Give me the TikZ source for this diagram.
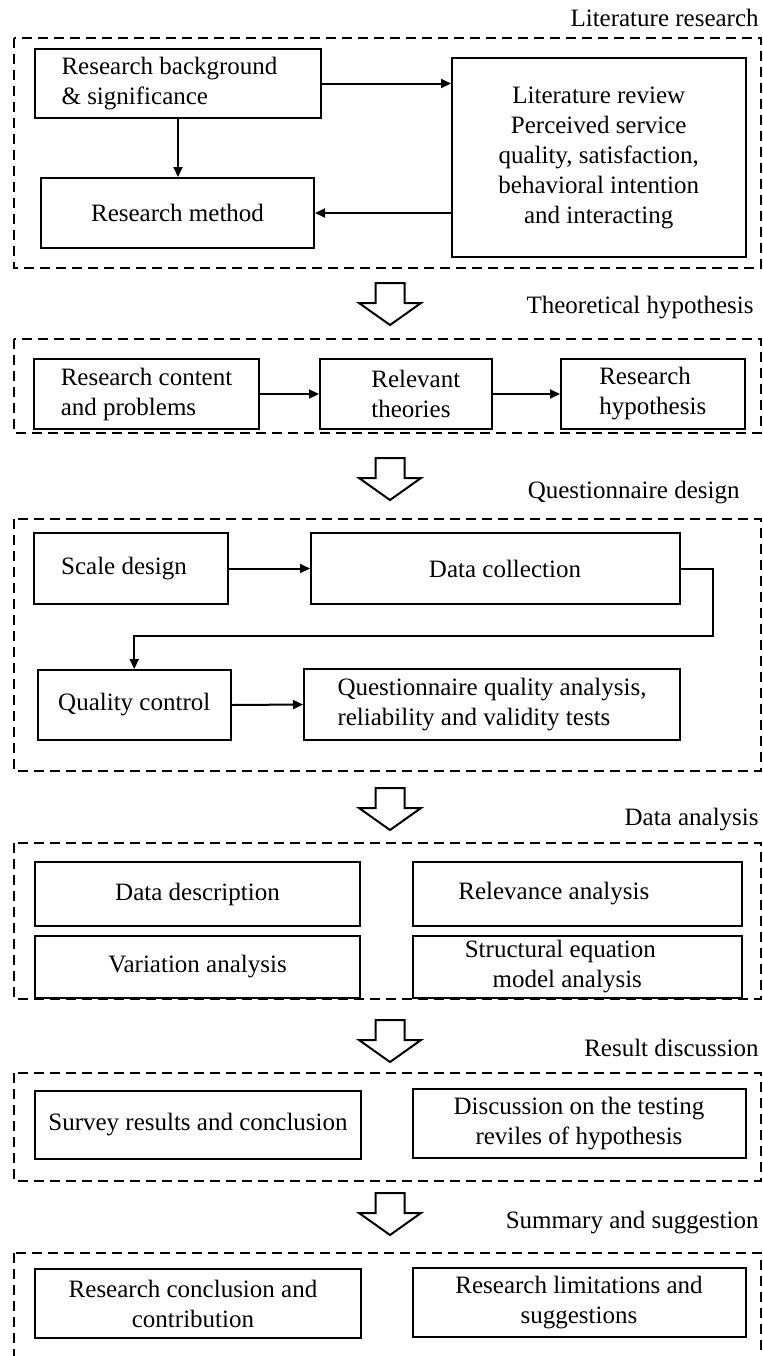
\documentclass[tikz,border=0pt]{standalone}
\usepackage{fontspec}
\setmainfont{Liberation Serif}
\usetikzlibrary{arrows.meta}

\tikzset{
  txt/.style={font=\fontsize{12.5}{15}\selectfont},
  box/.style={txt, draw, line width=1pt, inner sep=0pt, align=center},
  frame/.style={draw, line width=0.75pt, dash pattern=on 5pt off 3pt},
  flow/.style={line width=1pt, line join=miter, -{Triangle[length=5pt,width=4.5pt]}},
  stage/.style={txt, anchor=east, inner sep=0pt},
  blockarrow/.style={draw, line width=1pt, fill=white, line join=miter}
}

\begin{document}
\begin{tikzpicture}[x=0.5pt, y=-0.5pt]
\useasboundingbox (0,0) rectangle (763,1356);

% ---------- group frames ----------
\draw[frame] (14,38) rectangle (761,268);
\draw[frame] (14,339) rectangle (761,433);
\draw[frame] (14,519) rectangle (761,771);
\draw[frame] (14,843) rectangle (761,999);
\draw[frame] (14,1073) rectangle (761,1181);
\draw[frame] (14,1253) rectangle (761,1400);

% ---------- stage titles ----------
\node[stage] (t1) at (759,18)   {Literature research};
\node[stage] (t2) at (754,308)  {Theoretical hypothesis};
\node[stage] (t3) at (740,493)  {Questionnaire design};
\node[stage] (t4) at (759,820)  {Data analysis};
\node[stage] (t5) at (759,1048) {Result discussion};
\node[stage] (t6) at (759,1223) {Summary and suggestion};

% ---------- hollow arrows between stages ----------
\foreach \t in {283,458,788,1020,1193}
  \draw[blockarrow] (375.5,\t) -- (404.5,\t) -- (404.5,\t+20) -- (421,\t+20)
    -- (390,\t+42) -- (359,\t+20) -- (375.5,\t+20) -- cycle;

% ---------- literature research ----------
\node[box, align=left, minimum width=143pt, minimum height=34.5pt] (bg) at (178,83.5)
  {Research background\kern8.5pt\\\& significance};
\node[box, minimum width=136.5pt, minimum height=35pt] (rm) at (177.5,213)
  {Research method};
\node[box, minimum width=146.75pt, minimum height=99.5pt] (lr) at (598.75,157.5)
  {Literature review\\Perceived service\\quality, satisfaction,\\behavioral intention\\and interacting};

\draw[flow] (bg.east) -- (bg.east -| lr.west);
\draw[flow] (bg.south) -- (bg.south |- rm.north);
\draw[flow] (lr.west |- rm.east) -- (rm.east);

% ---------- theoretical hypothesis ----------
\node[box, align=left, minimum width=112.5pt, minimum height=35pt] (rc) at (146.5,394)
  {Research content\\and problems};
\node[box, align=left, minimum width=85.75pt, minimum height=35pt] (rt) at (405.75,394)
  {\hspace*{10pt}Relevant\\\hspace*{10pt}theories};
\node[box, align=left, minimum width=91.75pt, minimum height=35pt] (rh) at (652.75,394)
  {Research\\hypothesis};

\draw[flow] (rc.east) -- (rt.west);
\draw[flow] (rt.east) -- (rh.west);

% ---------- questionnaire design ----------
\node[box, minimum width=97pt, minimum height=35.5pt] (sd) at (131,568.5)
  {Scale design\kern7pt};
\node[box, minimum width=184.5pt, minimum height=35.5pt] (dc) at (495.5,568.5)
  {\hspace*{9.5pt}Data collection};
\node[box, minimum width=96.75pt, minimum height=35pt] (qc) at (134.25,705)
  {Quality control};
\node[box, align=left, minimum width=188pt, minimum height=35.5pt] (qa) at (492,704.5)
  {Questionnaire quality analysis,\\reliability and validity tests};
\coordinate (bend) at (713,636);

\draw[flow] (sd.east) -- (dc.west);
\draw[flow] (dc.east) -| (bend) -| (qc.north);
\draw[flow] (qc.east) -- (qa.west);

% ---------- data analysis ----------
\node[box, minimum width=162.5pt, minimum height=32pt] (dd) at (197.5,894)
  {Data description};
\node[box, minimum width=164.7pt, minimum height=32pt] (ra) at (577.3,894)
  {Relevance analysis\kern23.5pt};
\node[box, minimum width=162.5pt, minimum height=31pt] (va) at (197.5,966.5)
  {Variation analysis};
\node[box, minimum width=164.7pt, minimum height=31pt] (se) at (577.3,966.5)
  {Structural equation\kern17pt\\model analysis\kern10pt};

% ---------- result discussion ----------
\node[box, minimum width=163pt, minimum height=34pt] (sr) at (198,1125)
  {Survey results and conclusion};
\node[box, minimum width=166.5pt, minimum height=34.5pt] (dt) at (579,1123.5)
  {Discussion on the testing\\reviles of hypothesis};

% ---------- summary and suggestion ----------
\node[box, minimum width=163pt, minimum height=34.5pt] (cc) at (198,1303.5)
  {Research conclusion and\kern5pt\\contribution\kern5pt};
\node[box, minimum width=166.5pt, minimum height=34.5pt] (ls) at (579,1302.5)
  {Research limitations and\\suggestions};
\end{tikzpicture}
\end{document}
